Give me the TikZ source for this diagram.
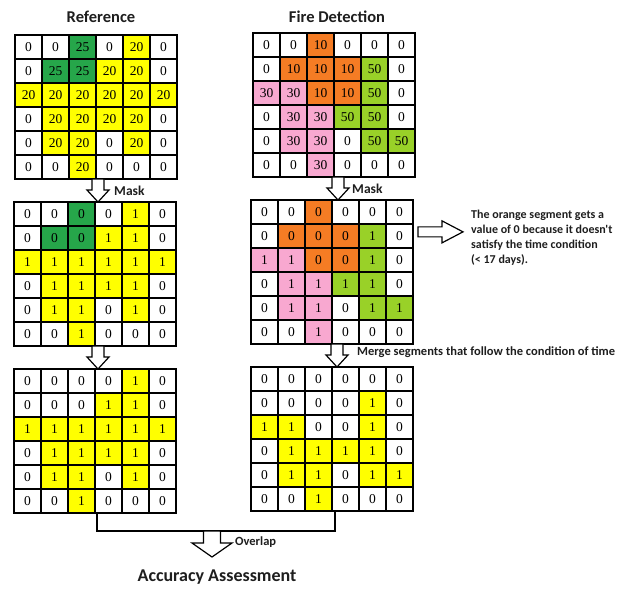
\documentclass[tikz,border=0pt]{standalone}
\usepackage{fontspec}
\setmainfont{Liberation Serif}
\newfontfamily\labfont{Carlito}
\newfontfamily\numfont{Liberation Serif}
\usetikzlibrary{calc}
\definecolor{cW}{RGB}{255,255,255}
\definecolor{cY}{RGB}{255,255,0}
\definecolor{cG}{RGB}{38,166,74}
\definecolor{cO}{RGB}{245,124,36}
\definecolor{cP}{RGB}{248,168,208}
\definecolor{cL}{RGB}{153,209,40}
\definecolor{txt}{RGB}{30,30,30}
\tikzset{
  num/.style={inner sep=0pt, font=\numfont\fontsize{13.5}{14}\selectfont},
  gridline/.style={line width=1.3pt, black},
  frame/.style={draw=black, line width=1.5pt, inner sep=0pt, outer sep=0pt,
                minimum width=162pt, minimum height=144pt},
  blockarrow/.style={draw=black, line width=1.2pt, fill=white, line join=miter},
  bracket/.style={draw=black, line width=1.2pt},
  title/.style={font=\labfont\bfseries\fontsize{16.5}{18}\selectfont, text=txt, inner sep=0pt},
  lab/.style={font=\labfont\bfseries\fontsize{13.5}{15}\selectfont, text=txt, inner sep=0pt, anchor=west},
  note/.style={font=\labfont\bfseries\fontsize{12}{15}\selectfont, text=txt, inner sep=0pt, align=left},
}
\newcommand{\mkgrid}[4]{%
  \foreach \rowlist [count=\ri] in {#4} {
    \foreach \val/\col [count=\ki] in \rowlist {
      \fill[fill=c\col] (#2+27*\ki-27+1.3, #3+24*\ri-24+1.3) rectangle (#2+27*\ki-1.3, #3+24*\ri-1.3);
      \node[num] (#1-\ri-\ki) at (#2+27*\ki-13.5, #3+24*\ri-12) {\val};
    }
  }
  \foreach \ii in {1,...,5} {
    \draw[gridline] (#2+27*\ii,#3) -- (#2+27*\ii,#3+144);
    \draw[gridline] (#2,#3+24*\ii) -- (#2+162,#3+24*\ii);
  }
  \node[frame] (#1) at (#2+81,#3+72) {};
}
\newcommand{\blockdown}[5]{%
  \draw[blockarrow] let \p1=(#1), \p2=(#2) in
    (\x2-#3pt,\y1) -- (\x2+#3pt,\y1) -- (\x2+#3pt,\y2+#5pt) -- (\x2+#4pt,\y2+#5pt)
    -- (\x2,\y2) -- (\x2-#4pt,\y2+#5pt) -- (\x2-#3pt,\y2+#5pt) -- cycle;}
\begin{document}
\begin{tikzpicture}[x=1pt,y=-1pt]
\useasboundingbox (0,0) rectangle (621,590);
\fill[white] (0,0) rectangle (621,590);

\node[title] (t1) at (101,17) {Reference};
\node[title] (t2) at (337,17) {Fire Detection};

\mkgrid{g1}{15}{35}{
{0/W,0/W,25/G,0/W,20/Y,0/W},
{0/W,25/G,25/G,20/Y,20/Y,0/W},
{20/Y,20/Y,20/Y,20/Y,20/Y,20/Y},
{0/W,20/Y,20/Y,20/Y,20/Y,0/W},
{0/W,20/Y,20/Y,0/W,20/Y,0/W},
{0/W,0/W,20/Y,0/W,0/W,0/W}}

\mkgrid{g2}{253}{33}{
{0/W,0/W,10/O,0/W,0/W,0/W},
{0/W,10/O,10/O,10/O,50/L,0/W},
{30/P,30/P,10/O,10/O,50/L,0/W},
{0/W,30/P,30/P,50/L,50/L,0/W},
{0/W,30/P,30/P,0/W,50/L,50/L},
{0/W,0/W,30/P,0/W,0/W,0/W}}

\mkgrid{g3}{14}{202}{
{0/W,0/W,0/G,0/W,1/Y,0/W},
{0/W,0/G,0/G,1/Y,1/Y,0/W},
{1/Y,1/Y,1/Y,1/Y,1/Y,1/Y},
{0/W,1/Y,1/Y,1/Y,1/Y,0/W},
{0/W,1/Y,1/Y,0/W,1/Y,0/W},
{0/W,0/W,1/Y,0/W,0/W,0/W}}

\mkgrid{g4}{251}{200}{
{0/W,0/W,0/O,0/W,0/W,0/W},
{0/W,0/O,0/O,0/O,1/L,0/W},
{1/P,1/P,0/O,0/O,1/L,0/W},
{0/W,1/P,1/P,1/L,1/L,0/W},
{0/W,1/P,1/P,0/W,1/L,1/L},
{0/W,0/W,1/P,0/W,0/W,0/W}}

\mkgrid{g5}{14}{369}{
{0/W,0/W,0/W,0/W,1/Y,0/W},
{0/W,0/W,0/W,1/Y,1/Y,0/W},
{1/Y,1/Y,1/Y,1/Y,1/Y,1/Y},
{0/W,1/Y,1/Y,1/Y,1/Y,0/W},
{0/W,1/Y,1/Y,0/W,1/Y,0/W},
{0/W,0/W,1/Y,0/W,0/W,0/W}}

\mkgrid{g6}{251}{367}{
{0/W,0/W,0/W,0/W,0/W,0/W},
{0/W,0/W,0/W,0/W,1/Y,0/W},
{1/Y,1/Y,0/W,0/W,1/Y,0/W},
{0/W,1/Y,1/Y,1/Y,1/Y,0/W},
{0/W,1/Y,1/Y,0/W,1/Y,1/Y},
{0/W,0/W,1/Y,0/W,0/W,0/W}}

% vertical block arrows
\blockdown{98,0 |- g1.south}{98,0 |- g3.north}{6}{11}{12}
\blockdown{98,0 |- g3.south}{98,0 |- g5.north}{6}{11}{12}
\blockdown{338,0 |- g2.south}{338,0 |- g4.north}{6}{11}{12}
\blockdown{337,0 |- g4.south}{337,0 |- g6.north}{6}{11}{12}

\node[lab] (m1) at (114,191) {Mask};
\node[lab] (m2) at (352,189) {Mask};
\node[lab, font=\labfont\bfseries\fontsize{12.5}{14}\selectfont] (mg) at (357,352) {Merge segments that follow the condition of time};

% side note and right arrow
\node[note, anchor=north west] (nt) at (471,210) {The orange segment gets a\\value of 0 because it doesn't\\satisfy the time condition\\(< 17 days).};
\draw[blockarrow] let \p1=(g4.east), \p2=(nt.west) in
  (\x1+5pt,\y2+11pt) -- (\x1+29pt,\y2+11pt) -- (\x1+29pt,\y2+17pt) -- (\x2-8pt,\y2+6pt)
  -- (\x1+29pt,\y2-5pt) -- (\x1+29pt,\y2+1pt) -- (\x1+5pt,\y2+1pt) -- cycle;

% bracket and overlap
\draw[bracket] (97,0 |- g5.south) -- (97,531) -| (335,0 |- g6.south);
\coordinate (ovtop) at (212,531);
\coordinate (ovtip) at (212,557);
\blockdown{ovtop}{ovtip}{8.5}{20}{14}
\node[lab, font=\labfont\bfseries\fontsize{12.5}{14}\selectfont] (ov) at (235,542) {Overlap};
\node[title, font=\labfont\bfseries\fontsize{18}{20}\selectfont] (acc) at (217,577) {Accuracy Assessment};
\end{tikzpicture}
\end{document}
